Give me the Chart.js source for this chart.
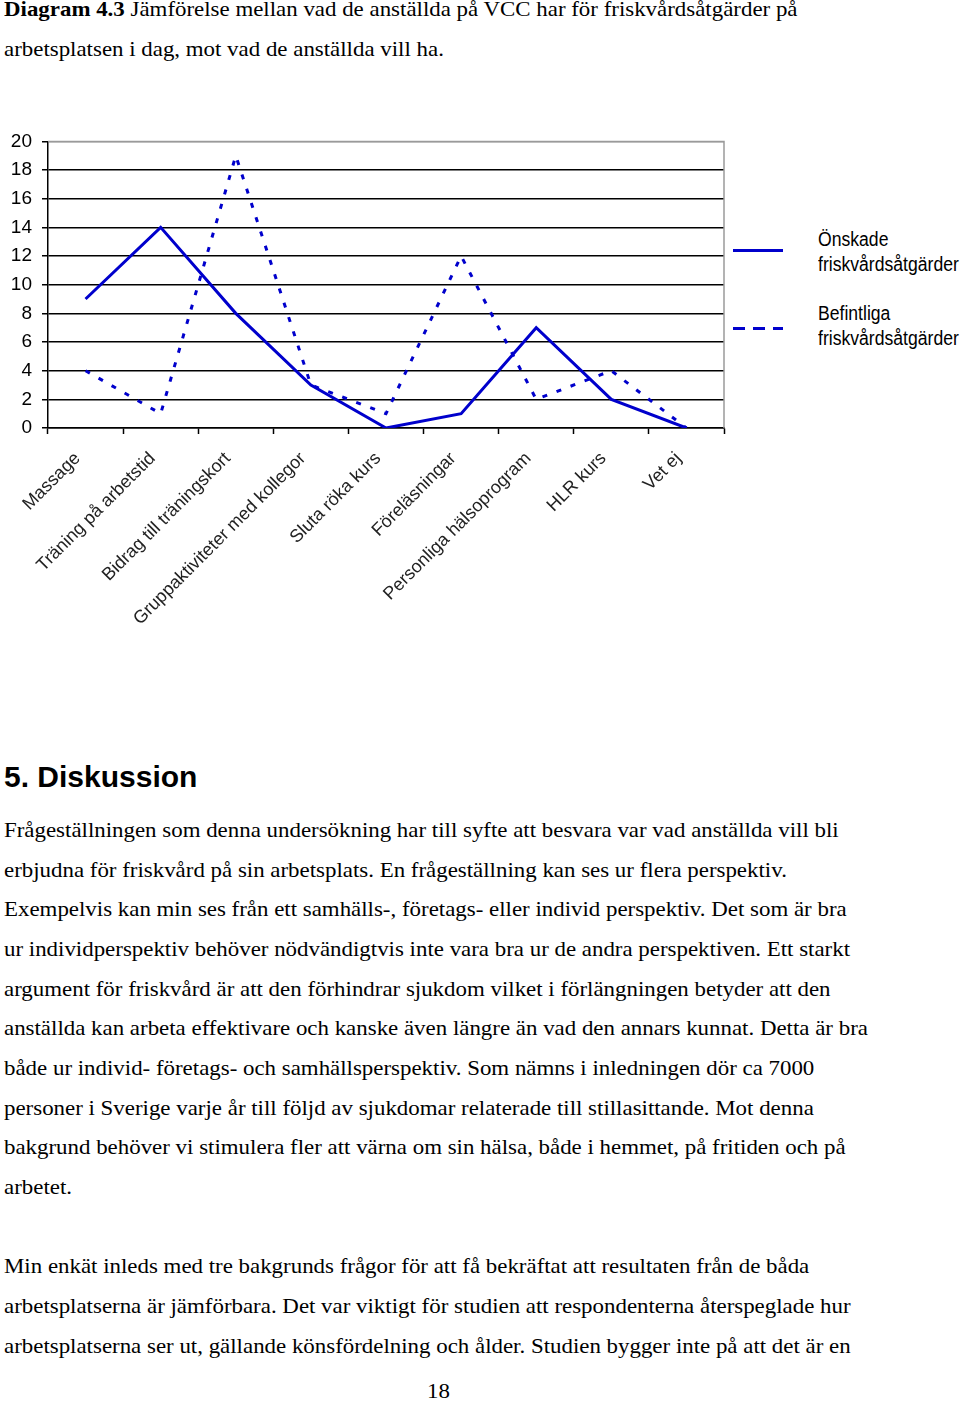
<!DOCTYPE html>
<html>
<head>
<meta charset="utf-8">
<script src="https://cdn.jsdelivr.net/npm/chart.js@4"></script>
<style>
  html, body { margin: 0; padding: 0; background: #fff; }
  body { width: 960px; height: 1401px; position: relative; overflow: hidden; }
  .serif { font-family: "Liberation Serif", "Times New Roman", serif; font-size: 21px; line-height: 39.65px; color: #000; white-space: nowrap; position: absolute; left: 4px; transform: scaleX(1.09); transform-origin: 0 0; }
  #chartBox { position: absolute; left: 0; top: 120px; width: 730px; height: 530px; }
  .legend { position: absolute; left: 733px; width: 50px; height: 3px; }
  .legtext { position: absolute; left: 818px; font-family: "Liberation Sans", Arial, sans-serif; font-size: 20px; line-height: 25px; color: #000; white-space: nowrap; transform: scaleX(0.88); transform-origin: 0 0; }
  h2 { position: absolute; left: 4px; top: 757px; margin: 0; font-family: "Liberation Sans", Arial, sans-serif; font-size: 30px; line-height: 40px; font-weight: bold; }
</style>
</head>
<body>
<div class="serif" style="top:-10px"><b>Diagram 4.3</b> Jämförelse mellan vad de anställda på VCC har för friskvårdsåtgärder på<br>arbetsplatsen i dag, mot vad de anställda vill ha.</div>

<div id="chartBox"><canvas id="chart"></canvas></div>

<div class="legend" style="top:249px; background:#0000cc;"></div>
<div class="legtext" style="top:227px">Önskade<br>friskvårdsåtgärder</div>
<div class="legend" style="top:327px; background:repeating-linear-gradient(to right, #0000cc 0 12px, transparent 12px 20px);"></div>
<div class="legtext" style="top:301px">Befintliga<br>friskvårdsåtgärder</div>

<h2>5. Diskussion</h2>
<div class="serif" style="top:811px">Frågeställningen som denna undersökning har till syfte att besvara var vad anställda vill bli<br>erbjudna för friskvård på sin arbetsplats. En frågeställning kan ses ur flera perspektiv.<br>Exempelvis kan min ses från ett samhälls-, företags- eller individ perspektiv. Det som är bra<br>ur individperspektiv behöver nödvändigtvis inte vara bra ur de andra perspektiven. Ett starkt<br>argument för friskvård är att den förhindrar sjukdom vilket i förlängningen betyder att den<br>anställda kan arbeta effektivare och kanske även längre än vad den annars kunnat. Detta är bra<br>både ur individ- företags- och samhällsperspektiv. Som nämns i inledningen dör ca 7000<br>personer i Sverige varje år till följd av sjukdomar relaterade till stillasittande. Mot denna<br>bakgrund behöver vi stimulera fler att värna om sin hälsa, både i hemmet, på fritiden och på<br>arbetet.<br><br>Min enkät inleds med tre bakgrunds frågor för att få bekräftat att resultaten från de båda<br>arbetsplatserna är jämförbara. Det var viktigt för studien att respondenterna återspeglade hur<br>arbetsplatserna ser ut, gällande könsfördelning och ålder. Studien bygger inte på att det är en</div>
<div class="serif" style="top:1372px; left:427px">18</div>

<script>
const categories = ['Massage', 'Träning på arbetstid', 'Bidrag till träningskort', 'Gruppaktiviteter med kollegor', 'Sluta röka kurs', 'Föreläsningar', 'Personliga hälsoprogram', 'HLR kurs', 'Vet ej'];
const onskade = [9, 14, 8, 3, 0, 1, 7, 2, 0];
const befintliga = [4, 1, 19, 3, 1, 12, 2, 4, 0];
const yTicks = [0, 2, 4, 6, 8, 10, 12, 14, 16, 18, 20];

// gray plot-area border on top and right, like the Excel original
const plotBorder = {
    id: 'plotBorder',
    beforeDatasetsDraw(chart) {
        const a = chart.chartArea;
        const ctx = chart.ctx;
        ctx.save();
        ctx.strokeStyle = '#9a9a9a';
        ctx.lineWidth = 1.5;
        ctx.beginPath();
        ctx.moveTo(a.left, a.top);
        ctx.lineTo(a.right, a.top);
        ctx.lineTo(a.right, a.bottom);
        ctx.stroke();
        ctx.restore();
    }
};

const ctx = document.getElementById('chart').getContext('2d');
new Chart(ctx, {
    type: 'line',
    data: {
        labels: categories,
        datasets: [{
            label: 'Önskade friskvårdsåtgärder',
            data: onskade,
            borderColor: '#0000cc',
            borderWidth: 3,
            pointRadius: 0,
            tension: 0
        }, {
            label: 'Befintliga friskvårdsåtgärder',
            data: befintliga,
            borderColor: '#0000cc',
            borderWidth: 3,
            borderDash: [5, 10],
            pointRadius: 0,
            tension: 0
        }]
    },
    options: {
        responsive: true,
        maintainAspectRatio: false,
        animation: false,
        layout: { padding: { top: 20, right: 6, left: 0, bottom: 0 } },
        plugins: {
            legend: { display: false },
            tooltip: { enabled: false }
        },
        scales: {
            x: {
                offset: true,
                afterFit: s => { s.height = 222; },
                grid: { drawOnChartArea: false, offset: true, tickLength: 6, tickColor: '#000', tickWidth: 1.5 },
                border: { color: '#000', width: 1.5 },
                ticks: {
                    autoSkip: false,
                    minRotation: 45,
                    maxRotation: 45,
                    padding: 14,
                    labelOffset: -8,
                    color: '#222',
                    font: { family: 'Liberation Sans, Arial, sans-serif', size: 18 }
                }
            },
            y: {
                min: 0,
                max: 20,
                afterFit: s => { s.width = 48; },
                afterBuildTicks: s => { s.ticks = yTicks.map(v => ({ value: v })); },
                grid: {
                    color: c => c.tick && c.tick.value === 20 ? '#9a9a9a' : '#000',
                    lineWidth: 1.5,
                    tickLength: 6,
                    tickColor: '#000'
                },
                border: { color: '#000', width: 1.5 },
                ticks: {
                    padding: 10,
                    color: '#000',
                    font: { family: 'Liberation Sans, Arial, sans-serif', size: 19 }
                }
            }
        }
    },
    plugins: [plotBorder]
});
</script>
</body>
</html>
